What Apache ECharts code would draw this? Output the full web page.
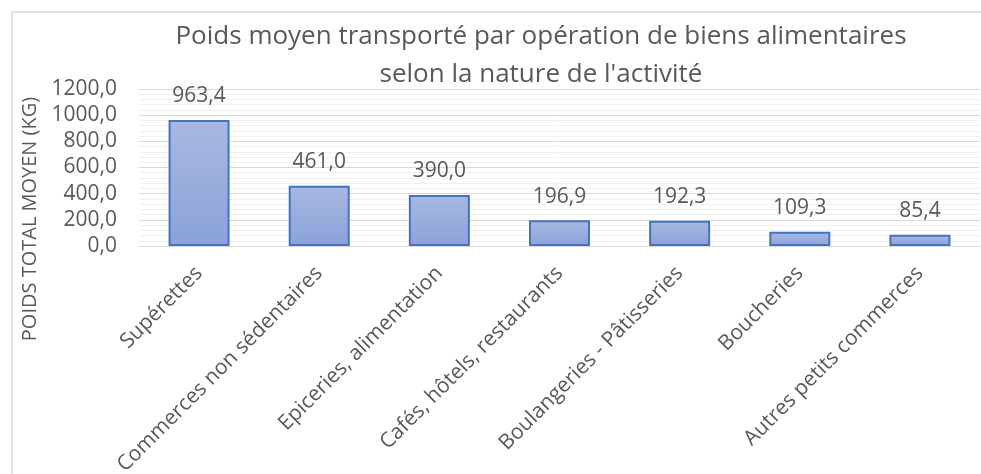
<!DOCTYPE html>
<html>
<head>
<meta charset="utf-8">
<script src="https://cdn.jsdelivr.net/npm/echarts@6/dist/echarts.min.js"></script>
<style>html,body{margin:0;padding:0;background:#fff;}#c{width:981px;height:474px;}</style>
</head>
<body>
<div id="c"></div>
<script>
const categories = ["Supérettes", "Commerces non sédentaires", "Epiceries, alimentation", "Cafés, hôtels, restaurants", "Boulangeries - Pâtisseries", "Boucheries", "Autres petits commerces"];
const values = [963.4, 461.0, 390.0, 196.9, 192.3, 109.3, 85.4];
const titleLines = ["Poids moyen transporté par opération de biens alimentaires", "selon la nature de l'activité"];
const yAxisTitle = "POIDS TOTAL MOYEN (KG)";
const yMin = 0, yMax = 1200, yStep = 200;

const FONT = "Open Sans";
const GREY = "#595959";
const fmt = v => v.toFixed(1).replace('.', ',');

const chart = echarts.init(document.getElementById('c'), null, {renderer: 'canvas'});
chart.setOption({
  animation: false,
  backgroundColor: '#ffffff',
  title: {
    text: titleLines.join('\n'),
    left: 536,
    top: 13,
    textAlign: 'center',
    textStyle: {fontFamily: FONT, fontSize: 26, fontWeight: 'normal', color: GREY, lineHeight: 38}
  },
  graphic: [
    {type: 'rect', shape: {x: 12, y: 12, width: 1000, height: 500}, style: {fill: null, stroke: '#D9D9D9', lineWidth: 1.5}, silent: true, z: -1},
    {type: 'text', x: 30, y: 219, rotation: Math.PI / 2, style: {text: yAxisTitle, fontFamily: FONT, fontSize: 20, fill: GREY, align: 'center', verticalAlign: 'middle'}}
  ],
  grid: {left: 139, right: 1, top: 89, bottom: 228, containLabel: false, outerBoundsMode: 'none'},
  xAxis: {
    type: 'category',
    data: categories,
    axisLine: {show: true, lineStyle: {color: '#D9D9D9', width: 1}},
    axisTick: {show: false},
    axisLabel: {rotate: 45, interval: 0, margin: 24, fontFamily: FONT, fontSize: 21, color: GREY}
  },
  yAxis: {
    type: 'value',
    min: yMin, max: yMax, interval: yStep,
    axisLine: {show: false},
    axisTick: {show: false},
    axisLabel: {formatter: v => fmt(v), margin: 22, fontFamily: FONT, fontSize: 21, color: GREY},
    splitLine: {show: true, lineStyle: {color: '#D9D9D9', width: 1}},
    minorTick: {show: false, splitNumber: 5},
    minorSplitLine: {show: true, lineStyle: {color: '#F0F0F0', width: 1}}
  },
  series: [{
    type: 'bar',
    data: values,
    barWidth: 61,
    itemStyle: {
      color: new echarts.graphic.LinearGradient(0, 0, 0, 1, [
        {offset: 0, color: '#A9B8E1'},
        {offset: 1, color: '#8AA2D9'}
      ]),
      borderColor: '#4472C4',
      borderWidth: 2
    },
    label: {show: true, position: 'top', distance: 13, formatter: p => fmt(p.value), fontFamily: FONT, fontSize: 21, color: GREY}
  }]
});
</script>
</body>
</html>
